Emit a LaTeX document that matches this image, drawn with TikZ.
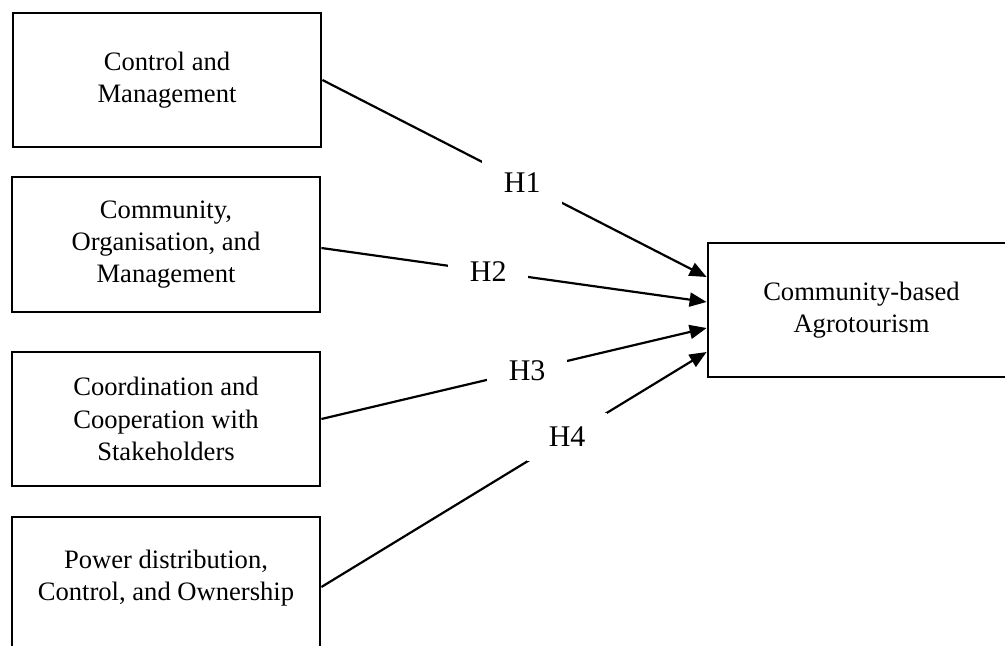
\documentclass[tikz,border=0pt]{standalone}
\usepackage{fontspec}
\setmainfont{Liberation Serif}
\usetikzlibrary{arrows.meta}
\begin{document}
\begin{tikzpicture}[x=0.5pt,y=-0.5pt,
  box/.style={draw, line width=1.4pt, minimum width=154pt, minimum height=67pt, inner sep=0pt, align=center, font=\fontsize{13.3}{16.2}\selectfont},
  boxtext/.style={inner sep=0pt, align=center, font=\fontsize{13.3}{16.2}\selectfont},
  conn/.style={line width=1.1pt, -{Triangle[length=8.5pt,width=7pt]}},
  hyp/.style={fill=white, minimum width=40pt, minimum height=24pt, inner sep=0pt, font=\fontsize{15}{18}\selectfont}]
\useasboundingbox (0,0) rectangle (1005,646);
\clip (0,0) rectangle (1005,646);
\node[box] (b1) at (167,80) {Control and\\Management};
\node[box, minimum height=67.5pt] (b2) at (166,244.5) {Community,\\Organisation, and\\Management};
\node[box] (b3) at (166,419) {Coordination and\\Cooperation with\\Stakeholders};
\node[box, minimum height=70pt] (b4) at (166,587) {};
\node[boxtext] (b4t) at (166,578) {Power distribution,\\Control, and Ownership};
\node[box, minimum width=153.5pt] (t) at (861.5,310) {Community-based\\Agrotourism};
\draw[conn] (b1.east) -- node[hyp,pos=0.52]{H1} ([yshift=16.5pt]t.west);
\draw[conn] ([yshift=-1.75pt]b2.east) -- node[hyp,pos=0.433]{H2} ([yshift=4pt]t.west);
\draw[conn] (b3.east) -- node[hyp,pos=0.534]{H3} ([yshift=-9pt]t.west);
\draw[conn] (b4.east) -- node[hyp,pos=0.638]{H4} ([yshift=-21pt]t.west);
\end{tikzpicture}
\end{document}
